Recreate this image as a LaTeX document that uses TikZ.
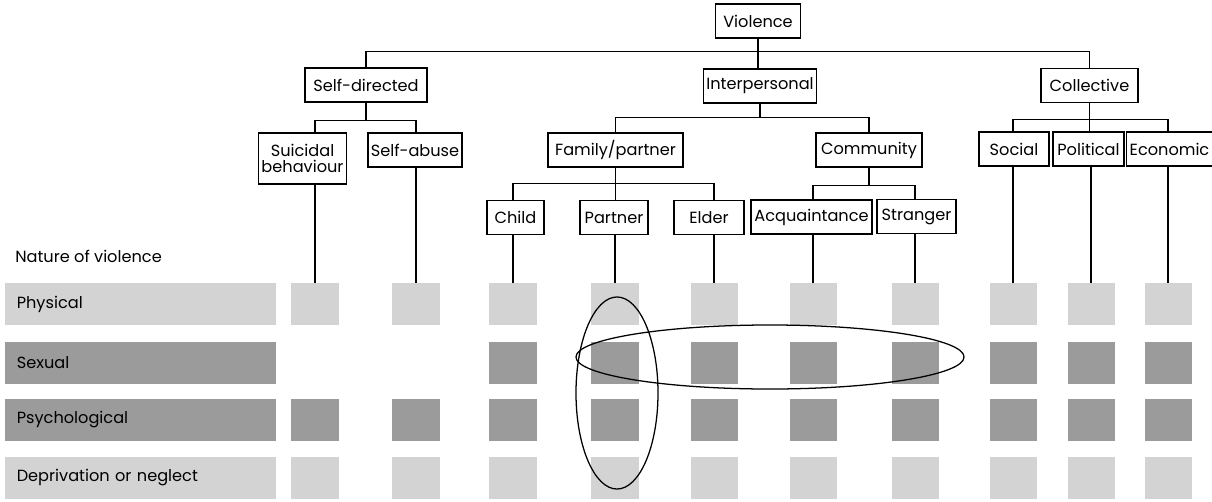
\documentclass[tikz,border=0pt]{standalone}
\usepackage{fontspec}
\setmainfont{Poppins}
\usetikzlibrary{positioning}
\definecolor{lightcell}{RGB}{211,211,211}
\definecolor{darkcell}{RGB}{155,155,155}

\begin{document}
\begin{tikzpicture}[x=0.025cm, y=-0.025cm, font=\fontsize{11.5}{14}\selectfont]
        \tikzset{
            box/.style={draw, line width=0.8pt, minimum height=0.85cm, inner sep=2pt, align=center},
            cell/.style={minimum width=1.175cm, minimum height=1.05cm, inner sep=0pt},
            light/.style={cell, fill=lightcell},
            dark/.style={cell, fill=darkcell},
            rowbar/.style={anchor=west, text width=6.2cm, inner xsep=0.2875cm, inner ysep=0pt, minimum height=1.05cm, align=left}
        }
        \useasboundingbox (0,0) rectangle (1212,501);

        % Typology boxes
        \node[box, minimum width=2.125cm] (violence) at (758,21) {Violence};
        \node[box, minimum width=3.05cm] (selfdir) at (366,85) {Self-directed};
        \node[box, minimum width=2.825cm] (interp) at (760,86) {Interpersonal};
        \node[box, minimum width=2.425cm] (collective) at (1089.5,85.5) {Collective};
        \node[box, minimum width=2.025cm, minimum height=1.275cm] (suicidal) at (302.5,158.5) {Suicidal\\[-3pt]behaviour};
        \node[box, minimum width=2.25cm] (selfabuse) at (415,150) {Self-abuse};
        \node[box, minimum width=3.375cm] (family) at (615.5,150) {Family/partner};
        \node[box, minimum width=2.65cm] (community) at (869,150) {Community};
        \node[box, minimum width=1.75cm] (social) at (1014,149) {Social};
        \node[box, minimum width=1.775cm] (political) at (1088.5,149) {Political};
        \node[box, minimum width=2.125cm] (economic) at (1169.5,149) {Economic};
        \node[box, minimum width=1.425cm] (child) at (515.5,217.5) {Child};
        \node[box, minimum width=1.7cm] (partner) at (614,217.5) {Partner};
        \node[box, minimum width=1.75cm] (elder) at (709,217.5) {Elder};
        \node[box, minimum width=3.025cm] (acquaint) at (811.5,217) {Acquaintance};
        \node[box, minimum width=1.975cm] (stranger) at (916.5,216.5) {Stranger};

        % Nature of violence
        \node[anchor=west, inner sep=0pt] (nature) at (15,256) {Nature of violence};
        \node[rowbar, fill=lightcell] (physical) at (5,304) {Physical};
        \node[rowbar, fill=darkcell] (sexual) at (5,362.5) {Sexual};
        \node[rowbar, fill=darkcell] (psych) at (5,420) {Psychological};
        \node[rowbar, fill=lightcell] (depriv) at (5,477.5) {Deprivation or neglect};

        % Cells
        \foreach \c/\x in {1/315, 2/416, 3/513, 4/615, 5/714, 6/813, 7/915, 8/1013, 9/1091, 10/1168} {
            \node[light] (phys-\c) at (\x,304) {};
            \node[dark] (psy-\c) at (\x,420) {};
            \node[light] (dep-\c) at (\x,477.5) {};
        }
        \foreach \c/\x in {3/513, 4/615, 5/714, 6/813, 7/915, 8/1013, 9/1091, 10/1168}
            \node[dark] (sex-\c) at (\x,362.5) {};

        % Tree
        \draw[line width=0.8pt] (violence.south) -- ++(0,13) -| (selfdir.north);
        \draw[line width=0.8pt] (violence.south) -- ++(0,13) -| (collective.north);
        \draw[line width=0.8pt] (violence.south) -- (violence.south |- interp.north);
        \draw[line width=0.8pt] (selfdir.south) -- ++(0,18) -| (suicidal.north -| phys-1);
        \draw[line width=0.8pt] (selfdir.south) -- ++(0,18) -| (selfabuse.north -| phys-2);
        \draw[line width=0.8pt] (interp.south) -- ++(0,14) -| (family.north);
        \draw[line width=0.8pt] (interp.south) -- ++(0,14) -| (community.north);
        \draw[line width=0.8pt] (family.south) -- ++(0,16) -| (child.north -| phys-3);
        \draw[line width=0.8pt] (family.south) -- (family.south |- partner.north);
        \draw[line width=0.8pt] (family.south) -- ++(0,16) -| (elder.north -| phys-5);
        \draw[line width=0.8pt] (community.south) -- ++(0,18) -| (acquaint.north -| phys-6);
        \draw[line width=0.8pt] (community.south) -- ++(0,18) -| (stranger.north -| phys-7);
        \draw[line width=0.8pt] (collective.south) -- ++(0,16) -| (social.north -| phys-8);
        \draw[line width=0.8pt] (collective.south) -- (collective.south |- political.north);
        \draw[line width=0.8pt] (collective.south) -- ++(0,16) -| (economic.north -| phys-10);
        \foreach \n/\c in {suicidal/1, selfabuse/2, child/3, partner/4, elder/5, acquaint/6, stranger/7, social/8, political/9, economic/10}
            \draw[line width=0.8pt] (\n.south -| phys-\c) -- (phys-\c.north);

        % Highlights
        \draw[line width=0.9pt] (617,393) ellipse [x radius=1.025cm, y radius=2.4cm];
        \draw[line width=0.9pt] (770,357) ellipse [x radius=4.85cm, y radius=0.8cm];
\end{tikzpicture}
\end{document}
